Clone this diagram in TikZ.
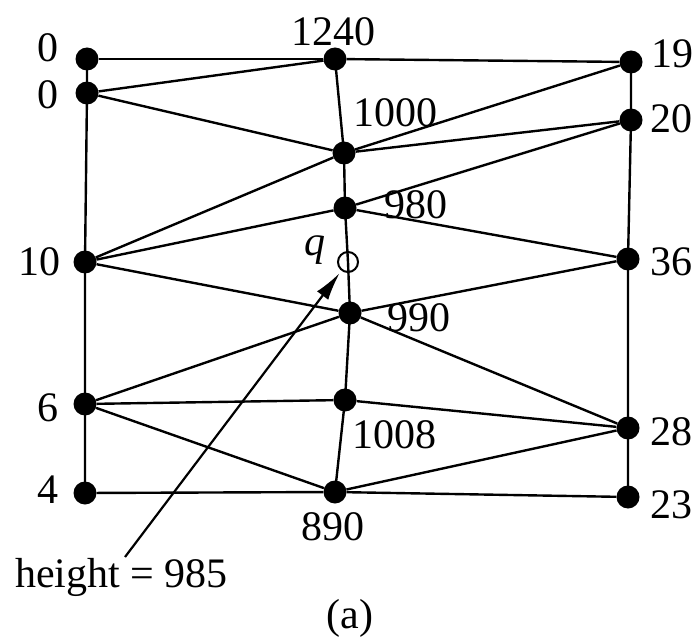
\documentclass[tikz,border=0pt]{standalone}
\usepackage{fontspec}
\setmainfont{Liberation Serif}
\usetikzlibrary{arrows.meta}
\begin{document}
\begin{tikzpicture}[x=1pt,y=-1pt,
  dot/.style={circle,fill=black,inner sep=0pt,minimum size=23pt},
  hole/.style={circle,draw=black,line width=2pt,inner sep=0pt,minimum size=20pt},
  edge/.style={line width=2.4pt},
  lab/.style={inner sep=0pt,font=\fontsize{42}{50}\selectfont}]
\useasboundingbox (0,0) rectangle (696,639);
% vertices
\node[dot] (L0a) at (87,59) {};
\node[dot] (L0b) at (87,93) {};
\node[dot] (L10) at (85,262) {};
\node[dot] (L6) at (85,404) {};
\node[dot] (L4) at (85,493) {};
\node[dot] (M1240) at (335,59) {};
\node[dot] (M1000) at (344,153) {};
\node[dot] (M980) at (345,208) {};
\coordinate (Q) at (348,262);
\node[dot] (M990) at (350,313) {};
\node[dot] (M1008) at (345,400) {};
\node[dot] (M890) at (335,492) {};
\node[dot] (R19) at (631,62) {};
\node[dot] (R20) at (631,120) {};
\node[dot] (R36) at (628,259) {};
\node[dot] (R28) at (628,428) {};
\node[dot] (R23) at (628,497) {};
% edges
\draw[edge] (L0a.center) -- (L0b.center) -- (L10.center) -- (L6.center) -- (L4.center);
\draw[edge] (R19.center) -- (R20.center) -- (R36.center) -- (R28.center) -- (R23.center);
\draw[edge] (M1240.center) -- (M1000.center) -- (M980.center) -- (Q) -- (M990.center) -- (M1008.center) -- (M890.center);
\draw[edge] (L0a) -- (M1240);
\draw[edge] (M1240) -- (R19);
\draw[edge] (L0b) -- (M1240);
\draw[edge] (L0b) -- (M1000);
\draw[edge] (M1000) -- (R19);
\draw[edge] (M1000) -- (R20);
\draw[edge] (L10) -- (M1000);
\draw[edge] (L10) -- (M980);
\draw[edge] (M980) -- (R20);
\draw[edge] (M980) -- (R36);
\draw[edge] (L10) -- (M990);
\draw[edge] (M990) -- (R36);
\draw[edge] (L6) -- (M990);
\draw[edge] (M990) -- (R28);
\draw[edge] (L6) -- (M1008);
\draw[edge] (M1008) -- (R28);
\draw[edge] (L6) -- (M890);
\draw[edge] (M890) -- (R28);
\draw[edge] (L4) -- (M890);
\draw[edge] (M890) -- (R23);
\node[hole] (q) at (Q) {};
% labels
\node[lab] (t0a) at (48,48) {0};
\node[lab] (t0b) at (48,95) {0};
\node[lab] (t10) at (40,262) {10};
\node[lab] (t6) at (48,408) {6};
\node[lab] (t4) at (48,490) {4};
\node[lab] (t19) at (672,54) {19};
\node[lab] (t20) at (671,119) {20};
\node[lab] (t36) at (671,262) {36};
\node[lab] (t28) at (671,432) {28};
\node[lab] (t23) at (671,505) {23};
\node[lab] (t1240) at (333,32) {1240};
\node[lab,anchor=west] (t1000) at (353,113) {1000};
\node[lab,anchor=west] (t980) at (384,205) {980};
\node[lab,anchor=west] (t990) at (387,318) {990};
\node[lab,anchor=west] (t1008) at (352,435) {1008};
\node[lab] (t890) at (333,527) {890};
\node[lab,anchor=base] (tq) at (315,255) {\textit{q}};
\node[lab,anchor=base west] (th) at (15,587) {height = 985};
\node[lab] (ta) at (350,618) {(a)};
\coordinate (AS) at (125,557);
\draw[line width=2.2pt,-{Latex[length=28pt,width=14pt]},shorten >=3pt] (AS) -- (q);
\end{tikzpicture}
\end{document}
